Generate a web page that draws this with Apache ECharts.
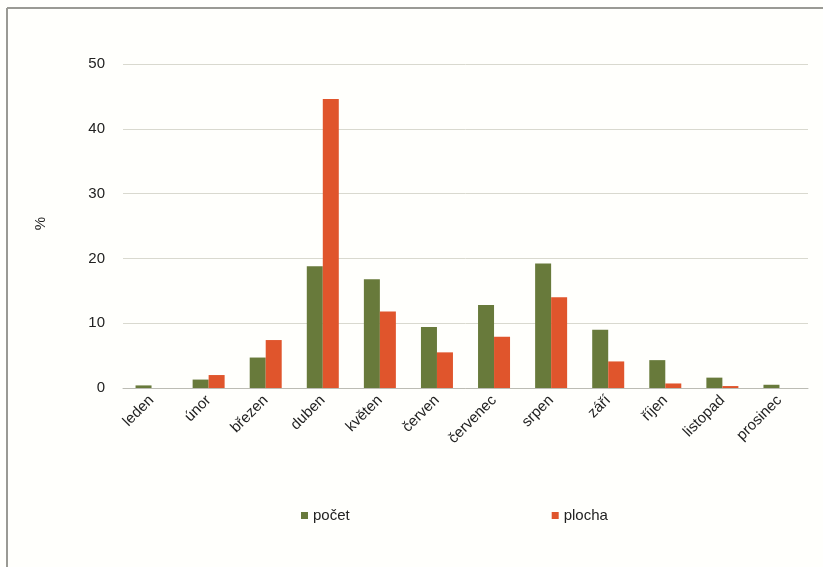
<!DOCTYPE html>
<html><head><meta charset="utf-8">
<script src="https://cdn.jsdelivr.net/npm/echarts@6/dist/echarts.min.js"></script>
<style>html,body{margin:0;padding:0;background:#fffffc}#c{width:823px;height:567px}</style>
</head><body><div id="c"></div>
<script>
const categories = ['leden','únor','březen','duben','květen','červen','červenec','srpen','září','říjen','listopad','prosinec'];
const pocet = [0.4, 1.3, 4.7, 18.8, 16.8, 9.4, 12.8, 19.2, 9.0, 4.3, 1.6, 0.5];
const plocha = [0.0, 2.0, 7.4, 44.6, 11.8, 5.5, 7.9, 14.0, 4.1, 0.7, 0.3, 0.0];
const yTicks = [0, 10, 20, 30, 40, 50];

const chart = echarts.init(document.getElementById('c'), null, {renderer:'canvas'});
const font = 'Liberation Sans, Arial, sans-serif';
chart.setOption({
  backgroundColor: '#fffffc',
  animation: false,
  graphic: [
    {type:'line', shape:{x1:7,y1:8,x2:823,y2:8}, style:{stroke:'#9a9a94', lineWidth:2}},
    {type:'line', shape:{x1:7,y1:8,x2:7,y2:567}, style:{stroke:'#9a9a94', lineWidth:2}},
    {type:'text', left: 33, top: 217, rotation: Math.PI/2, style:{text:'%', font:'15px ' + font, fill:'#222'}}
  ],
  grid: {left: 123, right: 15, top: 64, bottom: 179},
  legend: {
    left: 296, top: 503, itemWidth: 7, itemHeight: 7, itemGap: 202, icon: 'rect',
    textStyle: {fontFamily: font, fontSize: 15, color: '#222'},
    data: ['počet', 'plocha']
  },
  xAxis: {
    type: 'category', data: categories,
    axisLine: {lineStyle: {color: '#bcbcb4', width: 1}},
    axisTick: {show: false},
    axisLabel: {rotate: 45, interval: 0, fontFamily: font, fontSize: 15, color: '#222', margin: 10}
  },
  yAxis: {
    type: 'value', min: yTicks[0], max: yTicks[yTicks.length-1], interval: 10,
    axisLine: {show: false}, axisTick: {show: false},
    splitLine: {lineStyle: {color: '#d9d9cf', width: 1}},
    axisLabel: {fontFamily: font, fontSize: 15, color: '#222', margin: 18}
  },
  series: [
    {name: 'počet', type: 'bar', data: pocet, barWidth: 16, barGap: '0%', itemStyle: {color: '#687a3b'}},
    {name: 'plocha', type: 'bar', data: plocha, barWidth: 16, itemStyle: {color: '#e0552c'}}
  ]
});
</script></body></html>
